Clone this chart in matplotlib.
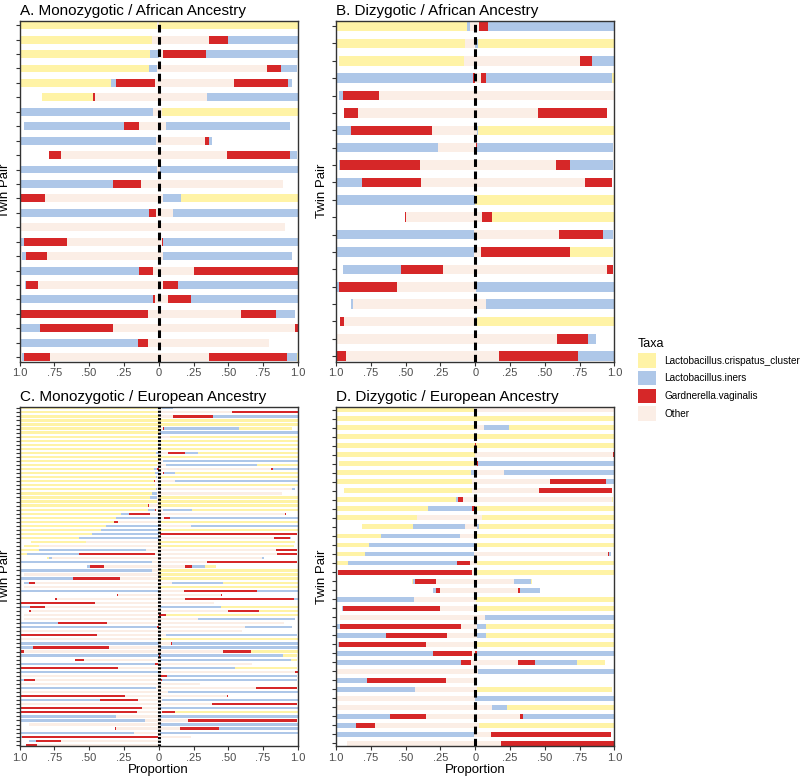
import numpy as np
import matplotlib.pyplot as plt
from matplotlib.patches import Patch

plt.rcParams['font.family'] = ['Liberation Sans', 'DejaVu Sans']

taxa = ['Lactobacillus.crispatus_cluster', 'Lactobacillus.iners',
        'Gardnerella.vaginalis', 'Other']
taxa_colors = ['#FFF3A6', '#AEC7E8', '#D62728', '#FBEEE6']

# every row is one twin pair, top to bottom
# each tuple: (Other, Gardnerella, iners, crispatus), stacked outward from 0
a_twin1 = [
    (0.01, 0, 0, 0.99), (0.05, 0, 0, 0.95), (0, 0, 0.06, 0.94), (0.01, 0, 0.06, 0.93),
    (0.03, 0.28, 0.03, 0.66), (0.46, 0.01, 0, 0.37), (0.04, 0, 0.96, 0), (0.14, 0.11, 0.72, 0),
    (0.02, 0, 0.98, 0), (0.70, 0.09, 0, 0), (0.01, 0, 0.99, 0), (0.13, 0.20, 0.67, 0),
    (0.82, 0.18, 0, 0), (0.02, 0.05, 0.93, 0), (1.0, 0, 0, 0), (0.66, 0.31, 0.03, 0),
    (0.80, 0.15, 0.03, 0), (0.04, 0.10, 0.86, 0), (0.87, 0.08, 0.01, 0), (0.03, 0.01, 0.96, 0),
    (0.08, 0.92, 0, 0), (0.33, 0.52, 0.15, 0), (0.08, 0.07, 0.85, 0), (0.78, 0.19, 0.01, 0),
]
a_twin2 = [
    (0, 0, 0, 1.0), (0.36, 0.14, 0.50, 0), (0.03, 0.31, 0.66, 0), (0.78, 0.10, 0.11, 0),
    (0.54, 0.39, 0.03, 0), (0.35, 0, 0.65, 0), (0.02, 0, 0, 0.98), (0.05, 0, 0.89, 0),
    (0.33, 0.03, 0.02, 0), (0.49, 0.45, 0.05, 0), (0.01, 0, 0.99, 0), (0.89, 0, 0, 0),
    (0.03, 0, 0.13, 0.84), (0.10, 0, 0.90, 0), (0.91, 0, 0, 0), (0.02, 0.01, 0.97, 0),
    (0.03, 0, 0.93, 0), (0.25, 0.75, 0, 0), (0.03, 0.11, 0.86, 0), (0.07, 0.16, 0.77, 0),
    (0.59, 0.25, 0.14, 0), (0.98, 0.02, 0, 0), (0.79, 0, 0, 0), (0.36, 0.56, 0.07, 0.01),
]

b_twin1 = [
    (0.04, 0, 0.02, 0.94), (0.07, 0, 0, 0.93), (0.08, 0, 0, 0.90), (0.005, 0.01, 0.985, 0),
    (0.69, 0.26, 0.03, 0), (0.84, 0.10, 0, 0), (0.31, 0.58, 0.11, 0), (0.27, 0, 0.73, 0),
    (0.40, 0.57, 0.01, 0), (0.39, 0.42, 0.19, 0), (0, 0, 1.0, 0), (0.50, 0.005, 0, 0),
    (0.01, 0, 0.99, 0), (0.01, 0, 0.99, 0), (0.23, 0.30, 0.42, 0), (0.56, 0.42, 0.02, 0),
    (0.88, 0, 0.01, 0), (0.94, 0.03, 0, 0), (0.99, 0, 0, 0), (0.93, 0.07, 0, 0),
]
b_twin2 = [
    (0.03, 0.06, 0.91, 0), (0, 0, 0.02, 0.98), (0.75, 0.09, 0.16, 0), (0.04, 0.04, 0.90, 0.02),
    (1.0, 0, 0, 0), (0.45, 0.50, 0, 0), (0.01, 0, 0.01, 0.98), (0.005, 0.005, 0.98, 0),
    (0.58, 0.10, 0.31, 0), (0.79, 0.19, 0, 0), (0, 0, 0, 1.0), (0.05, 0.07, 0, 0.88),
    (0.60, 0.32, 0.07, 0), (0.04, 0.64, 0, 0.31), (0.95, 0.04, 0, 0), (0.005, 0, 0.995, 0),
    (0.08, 0, 0.92, 0), (0, 0, 0.01, 0.99), (0.59, 0.22, 0.06, 0), (0.17, 0.57, 0.26, 0),
]

c_twin1 = [
    (0, 0, 0, 1), (0, 0, 0, 1), (0, 0, 0, 1), (0, 0, 0, 1), (0, 0, 0, 1), (0, 0, 0, 1),
    (0, 0, 0, 1), (0, 0, 0, 1), (0, 0, 0, 1), (0, 0, 0, 1), (0, 0, 0, 1), (0, 0, 0.02, 0.98),
    (0, 0, 0, 1), (0, 0, 0, 1), (0.01, 0, 0, 0.99), (0, 0.01, 0.025, 0.965),
    (0, 0, 0.03, 0.97), (0.01, 0, 0.01, 0.98), (0.03, 0.005, 0, 0.965), (0.03, 0, 0, 0.97),
    (0.01, 0, 0.01, 0.98), (0.01, 0, 0.04, 0.95), (0.01, 0, 0.05, 0.94), (0.01, 0, 0, 0.99),
    (0.07, 0.005, 0, 0.925), (0.02, 0.005, 0.05, 0.925), (0.065, 0.145, 0.06, 0.73),
    (0, 0, 0.305, 0.695), (0.295, 0.025, 0, 0.68), (0, 0, 0.38, 0.62), (0, 0, 0.415, 0.585),
    (0, 0, 0.48, 0.52), (0, 0, 0.57, 0.43), (0.52, 0, 0, 0.395), (0.86, 0, 0, 0.11),
    (0.09, 0, 0.77, 0.14), (0.025, 0.55, 0.37, 0.05), (0.77, 0, 0.02, 0.012),
    (0.05, 0, 0.94, 0), (0.39, 0.105, 0.02, 0), (0.045, 0, 0.955, 0), (0.97, 0, 0, 0),
    (0.275, 0.34, 0.385, 0), (0.89, 0.04, 0.035, 0), (0.97, 0, 0, 0), (0, 0, 1, 0),
    (0.29, 0.007, 0, 0), (0.73, 0.015, 0, 0), (0.46, 0.54, 0, 0), (0.82, 0.105, 0.075, 0),
    (0.92, 0.01, 0, 0), (0.97, 0, 0, 0), (0.97, 0, 0, 0), (0.37, 0.355, 0.275, 0),
    (0, 0.01, 0.99, 0), (0.99, 0, 0, 0), (0.44, 0.55, 0, 0), (0.99, 0, 0, 0),
    (0, 0, 0.995, 0), (0.355, 0.545, 0.095, 0), (0.97, 0.025, 0, 0), (0, 0, 0.995, 0),
    (0.54, 0.06, 0, 0), (0.005, 0.02, 0.975, 0), (0.29, 0.70, 0, 0), (0, 0, 1, 0),
    (0.99, 0, 0, 0), (0.89, 0.08, 0.025, 0), (0.99, 0, 0, 0), (0.02, 0, 0.975, 0),
    (0.98, 0, 0, 0), (0.24, 0.755, 0, 0), (0.15, 0.275, 0.57, 0), (0.99, 0, 0, 0),
    (0.12, 0.875, 0, 0), (0.155, 0.84, 0, 0), (0.31, 0, 0.68, 0), (0.095, 0.007, 0.895, 0),
    (0.93, 0, 0, 0), (0.31, 0.005, 0, 0), (0.175, 0, 0.82, 0), (0.005, 0.975, 0.015, 0),
    (0.70, 0.185, 0.05, 0), (0.875, 0.08, 0, 0),
]
c_twin2 = [
    (0.02, 0, 0.085, 0), (0.53, 0.47, 0, 0), (0.105, 0.285, 0.61, 0), (0, 0, 0, 1),
    (0, 0, 0, 1), (0.03, 0.005, 0.54, 0.38), (0.01, 0, 0.99, 0), (0.08, 0, 0, 0.92),
    (0, 0, 0, 1), (0, 0, 0, 1), (0, 0, 0, 1), (0.07, 0.12, 0.09, 0.72), (0, 0, 0, 1),
    (0.03, 0, 0.97, 0), (0.055, 0, 0.65, 0.295), (0.81, 0.01, 0.18, 0),
    (0.03, 0.01, 0.075, 0.885), (0, 0, 0, 1), (0.12, 0, 0.88, 0), (0, 0, 0, 1),
    (0.96, 0, 0.02, 0), (0.885, 0, 0, 0), (0, 0, 0, 1), (0, 0, 0, 1), (0, 0, 0, 1),
    (0.03, 0, 0.21, 0.76), (0.91, 0.005, 0, 0), (0.04, 0.04, 0.92, 0), (0, 0, 0, 1),
    (0.23, 0, 0.77, 0), (0, 0, 0, 1), (0.01, 0.98, 0, 0), (0.83, 0.11, 0.01, 0),
    (0, 0, 0, 0.98), (0, 0, 0, 0.97), (0.84, 0.15, 0, 0), (0.85, 0.14, 0, 0),
    (0.74, 0, 0.015, 0), (0.35, 0.64, 0, 0), (0.19, 0.05, 0.09, 0.08), (0, 0, 0, 1),
    (0, 0, 0, 1), (0, 0, 0, 1), (0.095, 0, 0.37, 0.535), (0, 0, 0, 1),
    (0.185, 0.52, 0.30, 0), (0.45, 0.005, 0, 0), (0.19, 0.78, 0.035, 0), (0.40, 0, 0, 0),
    (0.01, 0, 0.435, 0.555), (0.50, 0.22, 0, 0.28), (0.005, 0.05, 0, 0.945),
    (0.28, 0, 0.70, 0), (0.90, 0, 0, 0), (0.62, 0, 0.34, 0), (0.60, 0, 0, 0),
    (0.05, 0, 0.94, 0), (0, 0, 0, 1), (0.085, 0.01, 0.905, 0), (0.01, 0, 0.99, 0),
    (0.46, 0.205, 0, 0.335), (0.005, 0.005, 0.88, 0.10), (0.01, 0, 0.94, 0.04),
    (0.67, 0, 0, 0), (0.01, 0, 0.54, 0.44), (0.98, 0.02, 0, 0), (0.01, 0.05, 0.93, 0),
    (0.015, 0.01, 0.965, 0), (0.30, 0, 0, 0), (0.70, 0.29, 0, 0), (0.065, 0, 0.935, 0),
    (0.49, 0.005, 0, 0), (0.02, 0, 0.98, 0), (0.38, 0.61, 0, 0), (0.01, 0, 0.99, 0),
    (0.02, 0.10, 0, 0.88), (0.01, 0, 0.99, 0), (0.21, 0.785, 0, 0), (0.01, 0, 0.99, 0),
    (0.155, 0.275, 0.57, 0), (0.01, 0, 0.99, 0), (0.23, 0, 0, 0), (0, 0, 0, 0), (0, 0, 0, 0),
]

d_twin1 = [
    (0.01, 0, 0, 0.99), (0, 0, 0, 1), (0, 0, 0, 1), (0, 0, 0.01, 0.99), (0, 0, 0, 1),
    (0, 0, 0, 1), (0.01, 0, 0, 0.97), (0.01, 0, 0.02, 0.96), (0.02, 0, 0, 0.97),
    (0.02, 0, 0, 0.92), (0.09, 0.03, 0.015, 0.855), (0.005, 0.017, 0.32, 0.65),
    (0.42, 0, 0, 0.57), (0.07, 0.005, 0.37, 0.37), (0.11, 0, 0.57, 0.315),
    (0.005, 0, 0.76, 0.225), (0.01, 0, 0.78, 0.20), (0.035, 0.095, 0.785, 0.08),
    (0.02, 0.965, 0, 0), (0.28, 0.15, 0.02, 0.007), (0.25, 0.03, 0.02, 0),
    (0.44, 0, 0.555, 0), (0.25, 0.70, 0.005, 0), (0.97, 0, 0, 0), (0.10, 0.87, 0.025, 0),
    (0.20, 0.44, 0.355, 0), (0.35, 0.625, 0.01, 0), (0.025, 0.28, 0.69, 0),
    (0.03, 0.07, 0.89, 0), (0.995, 0, 0, 0), (0.21, 0.57, 0.215, 0), (0.435, 0, 0.56, 0),
    (0.995, 0, 0, 0), (0.995, 0, 0, 0), (0.35, 0.26, 0.385, 0), (0.72, 0.135, 0.14, 0),
    (0.01, 0, 0.985, 0), (0.92, 0, 0, 0),
]
d_twin2 = [
    (1.0, 0, 0, 0), (0, 0, 0, 1), (0.06, 0, 0.18, 0.76), (0, 0, 0, 1), (0, 0.005, 0, 0.995),
    (0.99, 0.01, 0, 0), (0.01, 0.01, 0.98, 0), (0.21, 0, 0.79, 0), (0.54, 0.40, 0.06, 0),
    (0.46, 0.52, 0, 0), (0.98, 0, 0, 0.01), (0.005, 0, 0, 0.995), (0.05, 0, 0, 0.95),
    (0.01, 0, 0.015, 0.975), (0.015, 0, 0, 0.985), (0.01, 0, 0, 0.99),
    (0.955, 0.007, 0.01, 0), (0.01, 0.005, 0, 0.98), (0.01, 0, 0, 0.99),
    (0.28, 0, 0.12, 0.007), (0.31, 0.012, 0.14, 0), (0.005, 0, 0, 0.99),
    (0.005, 0, 0, 0.995), (0.07, 0, 0.93, 0), (0.01, 0, 0.065, 0.925),
    (0.01, 0, 0.065, 0.925), (0.01, 0, 0, 0.99), (0, 0.01, 0.99, 0),
    (0.31, 0.12, 0.30, 0.20), (0.02, 0, 0.98, 0), (0.005, 0.01, 0, 0),
    (0.015, 0, 0, 0.97), (0, 0, 1, 0), (0.12, 0, 0.11, 0.77), (0.32, 0.025, 0.65, 0),
    (0.025, 0, 0, 0.975), (0.11, 0.865, 0, 0), (0.185, 0.815, 0, 0),
]

panel_titles = ['A. Monozygotic / African Ancestry', 'B. Dizygotic / African Ancestry',
                'C. Monozygotic / European Ancestry', 'D. Dizygotic / European Ancestry']
x_ticks = [-1, -0.75, -0.5, -0.25, 0, 0.25, 0.5, 0.75, 1]
x_ticklabels = ['1.0', '.75', '.50', '.25', '0', '.25', '.50', '.75', '1.0']

# column order of the tuples -> colour
seg_colors = [taxa_colors[3], taxa_colors[2], taxa_colors[1], taxa_colors[0]]


def draw_panel(ax, twin1, twin2, title, dashes, bottom_row):
    t1 = np.array(twin1, dtype=float)
    t2 = np.array(twin2, dtype=float)
    n = len(t1)
    rows = np.arange(n)
    h = 0.55
    for side, data in ((-1, t1), (1, t2)):
        cum = np.zeros(n)
        for j in range(4):
            w = data[:, j]
            ax.barh(rows, side * w, left=side * cum, height=h,
                    color=seg_colors[j], linewidth=0)
            cum += w
    ax.axvline(0, color='black', lw=2.2, ls=(0, dashes), zorder=5)
    ax.set_xlim(-1, 1)
    ax.set_ylim(n - 1 + h / 2 + 0.03, -h / 2 - 0.03)
    ax.set_yticks(rows)
    ax.set_yticklabels([])
    ax.set_xticks(x_ticks)
    ax.set_xticklabels(x_ticklabels)
    ax.tick_params(axis='x', length=3, width=0.8, color='#333333',
                   labelsize=8, labelcolor='#4D4D4D', pad=2)
    ax.tick_params(axis='y', length=3, width=0.8, color='#333333')
    for sp in ax.spines.values():
        sp.set_color('#333333')
        sp.set_linewidth(1.0)
    ax.set_title(title, loc='left', fontsize=11, pad=4)
    ax.set_ylabel('Twin Pair', fontsize=9.5)
    ax.yaxis.set_label_coords(-0.029, 0.5)
    if bottom_row:
        ax.set_xlabel('Proportion', fontsize=9.5, labelpad=1)


fig = plt.figure(figsize=(8, 7.78), dpi=100)
ax_a = fig.add_axes([0.0244, 0.5353, 0.348, 0.438])
ax_b = fig.add_axes([0.42, 0.5353, 0.348, 0.438])
ax_c = fig.add_axes([0.0244, 0.0411, 0.348, 0.4357])
ax_d = fig.add_axes([0.42, 0.0411, 0.348, 0.4357])

draw_panel(ax_a, a_twin1, a_twin2, panel_titles[0], (2.5, 1.5), False)
draw_panel(ax_b, b_twin1, b_twin2, panel_titles[1], (2.5, 1.5), False)
draw_panel(ax_c, c_twin1, c_twin2, panel_titles[2], (0.7, 0.5), True)
draw_panel(ax_d, d_twin1, d_twin2, panel_titles[3], (2.5, 1.5), True)

handles = [Patch(facecolor=c, edgecolor='none') for c in taxa_colors]
leg = fig.legend(handles, taxa, loc='upper left', bbox_to_anchor=(0.791, 0.572),
                 frameon=False, title='Taxa', fontsize=7.2, title_fontsize=9,
                 handlelength=1.8, handleheight=1.8, labelspacing=0.35,
                 handletextpad=0.85, borderpad=0, alignment='left')

fig.savefig('out.png', dpi=100)
